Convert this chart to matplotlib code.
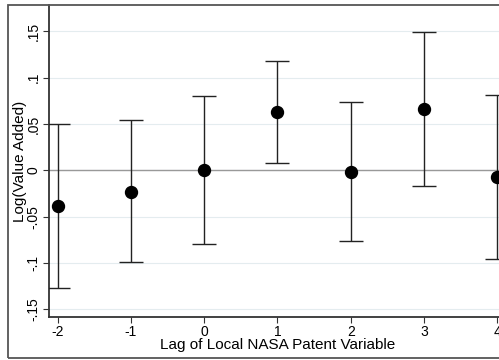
import matplotlib
matplotlib.use("Agg")
import matplotlib.pyplot as plt
from matplotlib.patches import Rectangle

plt.rcParams['font.family'] = ['Liberation Sans', 'DejaVu Sans']

# coefficient estimates and 95% CI by lag
lags = [-2, -1, 0, 1, 2, 3, 4]
coef = [-0.038, -0.023, 0.000, 0.063, -0.0015, 0.066, -0.007]
ci_lo = [-0.127, -0.099, -0.080, 0.008, -0.076, -0.017, -0.096]
ci_hi = [0.050, 0.054, 0.080, 0.118, 0.074, 0.149, 0.081]
yticks = [-0.15, -0.1, -0.05, 0, 0.05, 0.1, 0.15]
ytick_labels = ['-.15', '-.1', '-.05', '0', '.05', '.1', '.15']

fig = plt.figure(figsize=(4.99, 3.6), dpi=100)
ax = fig.add_axes([49/499, 43/360, 457/499, 312/360])

# outer graph region frame
frame = Rectangle((8/499, 2/360), 1.2, 353/360, transform=fig.transFigure,
                  fill=False, edgecolor='#555555', lw=1.3, zorder=5)
fig.add_artist(frame)

for y in yticks:
    ax.axhline(y, color='#e4ecef', lw=0.8, zorder=0)
ax.axhline(0, color='#999999', lw=1.0, zorder=1)

yerr = [[c - lo for c, lo in zip(coef, ci_lo)], [hi - c for c, hi in zip(coef, ci_hi)]]
ax.errorbar(lags, coef, yerr=yerr, fmt='o', color='black', ecolor='#222222',
            elinewidth=1.0, capsize=8.6, capthick=1.0, markersize=8.6, zorder=3)

ax.set_xlim(-2.119, 4.12)
ax.set_ylim(-0.1583, 0.1784)
ax.set_xticks(lags)
ax.set_xticklabels([str(l) for l in lags])
ax.set_yticks(yticks)
ax.set_yticklabels(ytick_labels, rotation=90, va='center')
ax.tick_params(axis='both', labelsize=10, length=4, width=0.8, color='#333333', pad=2)

for s in ['top', 'right']:
    ax.spines[s].set_visible(False)
for s in ['left', 'bottom']:
    ax.spines[s].set_linewidth(1.3)
    ax.spines[s].set_color('#333333')

ax.set_xlabel('Lag of Local NASA Patent Variable', fontsize=11, labelpad=-1)
ax.set_ylabel('Log(Value Added)', fontsize=11, labelpad=0)

fig.savefig('out.png', dpi=100)
